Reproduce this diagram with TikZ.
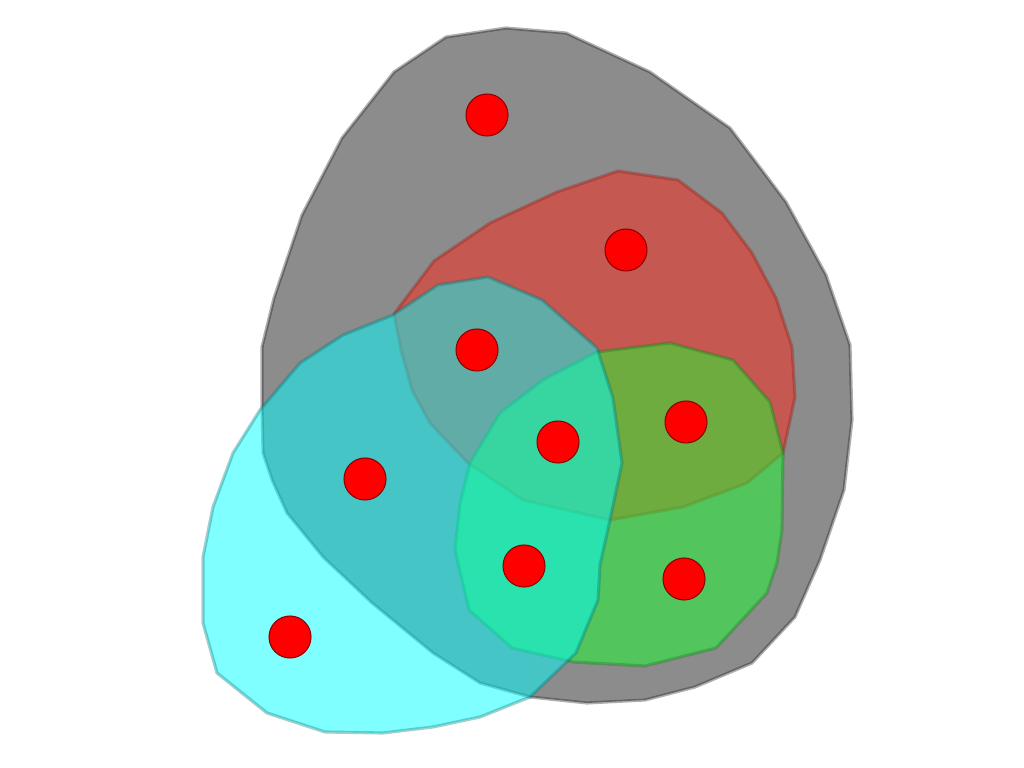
\documentclass[tikz,border=0pt]{standalone}
\usepackage{xcolor}
\usepackage{tikz}
\usetikzlibrary{positioning}
\definecolor{setgray}{HTML}{1A1A1A}
\definecolor{setred}{HTML}{FF2819}
\definecolor{setgreen}{HTML}{1AFF30}
\definecolor{setcyan}{HTML}{00FFFF}
\definecolor{dotred}{HTML}{FF0000}
\tikzset{
  region/.style = {line width=0.9pt, line join=round, fill opacity=0.5, draw opacity=0.35},
  grayset/.style  = {region, fill=setgray, draw=setgray},
  redset/.style   = {region, fill=setred, draw=setred!60!black},
  greenset/.style = {region, fill=setgreen, draw=setgreen!50!black},
  cyanset/.style  = {region, fill=setcyan, draw=setcyan!45!black},
  elem/.style     = {circle, fill=dotred, draw=dotred!55!black, line width=0.3pt,
                     minimum size=4.2mm, inner sep=0pt},
}
\begin{document}
\begin{tikzpicture}[x=0.1mm, y=-0.1mm]
  \useasboundingbox (0,0) rectangle (1024,768);

  % Outer set
  \path[grayset] (446,37) -- (506,28) -- (566,33) -- (650,72) -- (730,128) -- (786,202)
    -- (826,275) -- (850,345) -- (852,420) -- (844,490) -- (820,560) -- (795,617)
    -- (752,663) -- (695,687) -- (645,700) -- (587,703) -- (530,697) -- (480,683)
    -- (433,653) -- (372,603) -- (323,557) -- (287,513) -- (272,480) -- (263,453)
    -- (262,403) -- (262,347) -- (274,298) -- (302,215) -- (342,138) -- (394,72) -- cycle;

  % Red set
  \path[redset] (434,261) -- (490,223) -- (557,192) -- (618,171) -- (678,180)
    -- (722,213) -- (752,253) -- (776,298) -- (792,347) -- (795,397) -- (783,453)
    -- (747,483) -- (683,507) -- (610,520) -- (523,500) -- (468,463) -- (430,423)
    -- (412,390) -- (401,350) -- (394,314) -- cycle;

  % Green set
  \path[greenset] (597,352) -- (670,343) -- (733,360) -- (770,402) -- (783,453)
    -- (782,530) -- (777,563) -- (767,593) -- (716,648) -- (645,666) -- (573,662)
    -- (512,648) -- (469,610) -- (455,550) -- (460,503) -- (470,463) -- (500,413)
    -- (543,380) -- cycle;

  % Cyan set
  \path[cyanset] (393,315) -- (438,285) -- (488,277) -- (542,300) -- (597,348)
    -- (613,398) -- (622,463) -- (610,520) -- (600,565) -- (598,600) -- (576,653)
    -- (530,697) -- (480,717) -- (433,727) -- (383,733) -- (325,732) -- (267,713)
    -- (217,673) -- (203,623) -- (203,557) -- (213,507) -- (233,453) -- (260,410)
    -- (300,363) -- (343,335) -- cycle;

  % Elements
  \node[elem] (top)    at (487,115) {};
  \node[elem] (red)    at (626,250) {};
  \node[elem] (redcy)  at (477,350) {};
  \node[elem] (all)    at (558,442) {};
  \node[elem] (redgr)  at (686,422) {};
  \node[elem] (graycy) at (365,479) {};
  \node[elem] (grcy)   at (524,566) {};
  \node[elem] (green)  at (684,579) {};
  \node[elem] (cyan)   at (290,637) {};

\end{tikzpicture}
\end{document}
